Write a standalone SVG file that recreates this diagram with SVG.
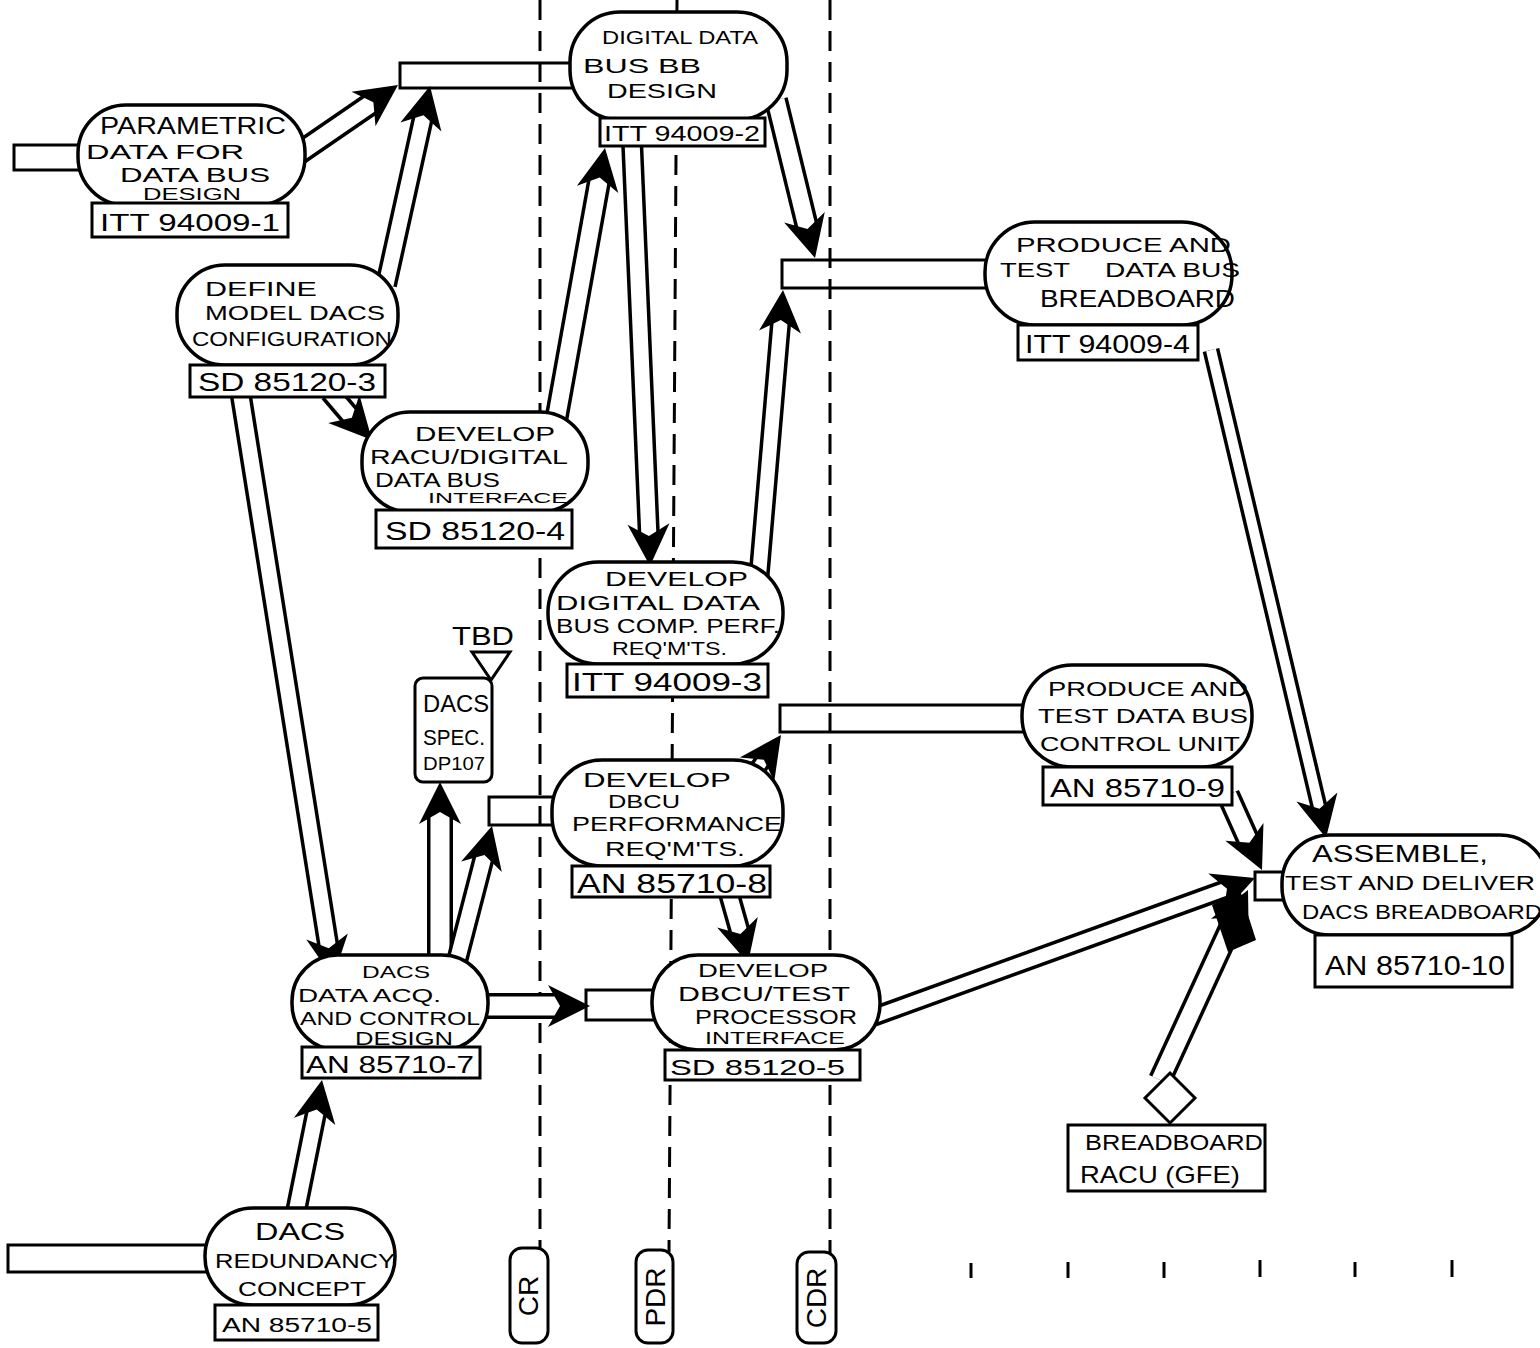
<svg xmlns="http://www.w3.org/2000/svg" width="1540" height="1348" viewBox="0 0 1540 1348">
<style>
.dash{stroke:#000;stroke-width:3;stroke-dasharray:20 11;fill:none}
.p{fill:#fff;stroke:#000;stroke-width:3.5}
.id{fill:#fff;stroke:#000;stroke-width:3}
text{font-family:"Liberation Sans",Arial,sans-serif;fill:#000}
.so{stroke:#000;fill:none}
.si{stroke:#fff;fill:none}
.bar{fill:none;stroke:#000;stroke-width:3}
.tip{fill:none;stroke:none;marker-end:url(#ah)}
.tick{stroke:#000;stroke-width:3}
</style>
<defs>
<marker id="ah" viewBox="-44 -24 46 48" refX="0" refY="0" markerWidth="46" markerHeight="48" markerUnits="userSpaceOnUse" orient="auto">
<path d="M0,0 L-42,-21 L-30,0 L-42,21 Z" fill="#000"/>
</marker>
</defs>
<rect width="1540" height="1348" fill="#fff"/>

<g id="milestone-lines">
<line class="dash" x1="540" y1="0" x2="540" y2="1250"/>
<line class="dash" x1="677" y1="0" x2="669" y2="1252"/>
<line class="dash" x1="830" y1="0" x2="830" y2="1254"/>
</g>

<g id="ticks">
<line class="tick" x1="971" y1="1263" x2="971" y2="1278"/>
<line class="tick" x1="1068" y1="1262" x2="1068" y2="1278"/>
<line class="tick" x1="1164" y1="1262" x2="1164" y2="1278"/>
<line class="tick" x1="1260" y1="1260" x2="1260" y2="1277"/>
<line class="tick" x1="1355" y1="1262" x2="1355" y2="1277"/>
<line class="tick" x1="1452" y1="1260" x2="1452" y2="1277"/>
</g>

<g id="connectors">
<rect class="bar" x="14" y="145" width="70" height="25"/>
<rect class="bar" x="400" y="63" width="176" height="25"/>
<rect class="bar" x="782" y="260" width="212" height="28"/>
<rect class="bar" x="780" y="705" width="248" height="27"/>
<rect class="bar" x="489" y="797" width="70" height="28"/>
<rect class="bar" x="586" y="990" width="72" height="30"/>
<rect class="bar" x="1255" y="872" width="32" height="28"/>
<rect class="bar" x="8" y="1245" width="204" height="27"/>
<path class="so" stroke-width="24" d="M292,158 L375,101"/><path class="si" stroke-width="17" d="M292,158 L375,101"/><path class="tip" d="M375,101 L398,85"/>
<path class="so" stroke-width="22" d="M386,285 L424,113"/><path class="si" stroke-width="15" d="M386,285 L424,113"/><path class="tip" d="M424,113 L430,86"/>
<path class="so" stroke-width="22" d="M330,392 L353,419"/><path class="si" stroke-width="15" d="M330,392 L353,419"/><path class="tip" d="M353,419 L372,440"/>
<path class="so" stroke-width="22" d="M240,390 L329,950"/><path class="si" stroke-width="15" d="M240,390 L329,950"/><path class="tip" d="M329,950 L333,978"/>
<path class="so" stroke-width="24" d="M554,432 L600,176"/><path class="si" stroke-width="17" d="M554,432 L600,176"/><path class="tip" d="M600,176 L605,148"/>
<path class="so" stroke-width="22" d="M632,140 L649,538"/><path class="si" stroke-width="15" d="M632,140 L649,538"/><path class="tip" d="M649,538 L650,566"/>
<path class="so" stroke-width="24" d="M776,100 L808,231"/><path class="si" stroke-width="17" d="M776,100 L808,231"/><path class="tip" d="M808,231 L815,258"/>
<path class="so" stroke-width="21" d="M759,576 L781,318"/><path class="si" stroke-width="14" d="M759,576 L781,318"/><path class="tip" d="M781,318 L783,290"/>
<path class="so" stroke-width="17" d="M1211,350 L1320,811"/><path class="si" stroke-width="10" d="M1211,350 L1320,811"/><path class="tip" d="M1320,811 L1326,838"/>
<path class="so" stroke-width="24" d="M1228,795 L1250,844"/><path class="si" stroke-width="17" d="M1228,795 L1250,844"/><path class="tip" d="M1250,844 L1262,870"/>
<path class="so" stroke-width="20" d="M870,1018 L1229,888"/><path class="si" stroke-width="13" d="M870,1018 L1229,888"/><path class="tip" d="M1229,888 L1255,878"/>
<path class="so" stroke-width="24" d="M1160,1080 L1236,915"/><path class="si" stroke-width="17" d="M1160,1080 L1236,915"/>
<polygon points="1212,905 1240,890 1256,940 1228,952" fill="#000"/>
<path class="tip" d="M1236,915 L1248,890"/>
<path class="so" stroke-width="18" d="M755,772 L765,758"/><path class="si" stroke-width="11" d="M755,772 L765,758"/><path class="tip" d="M765,758 L781,735"/>
<path class="so" stroke-width="26" d="M440,962 L440,810"/><path class="si" stroke-width="19" d="M440,962 L440,810"/><path class="tip" d="M440,810 L440,782"/>
<path class="so" stroke-width="22" d="M456,965 L485,853"/><path class="si" stroke-width="15" d="M456,965 L485,853"/><path class="tip" d="M485,853 L492,826"/>
<path class="so" stroke-width="26" d="M480,1006 L562,1006"/><path class="si" stroke-width="19" d="M480,1006 L562,1006"/><path class="tip" d="M562,1006 L590,1006"/>
<path class="so" stroke-width="22" d="M728,890 L741,936"/><path class="si" stroke-width="15" d="M728,890 L741,936"/><path class="tip" d="M741,936 L748,963"/>
<path class="so" stroke-width="22" d="M294,1222 L317,1108"/><path class="si" stroke-width="15" d="M294,1222 L317,1108"/><path class="tip" d="M317,1108 L322,1080"/>
</g>

<g id="node-parametric">
<rect class="p" x="78" y="105" width="227" height="100" rx="48"/>
<rect class="id" x="92" y="203" width="196" height="34"/>
<text x="100" y="134" font-size="23" textLength="186" lengthAdjust="spacingAndGlyphs">PARAMETRIC</text>
<text x="86" y="159" font-size="21" textLength="158" lengthAdjust="spacingAndGlyphs">DATA FOR</text>
<text x="120" y="182" font-size="21" textLength="150" lengthAdjust="spacingAndGlyphs">DATA BUS</text>
<text x="143" y="200" font-size="16" textLength="98" lengthAdjust="spacingAndGlyphs">DESIGN</text>
<text x="100" y="231" font-size="24" textLength="180" lengthAdjust="spacingAndGlyphs">ITT 94009-1</text>
</g>

<g id="node-define-model">
<rect class="p" x="177" y="265" width="221" height="100" rx="48"/>
<rect class="id" x="190" y="365" width="195" height="32"/>
<text x="205" y="296" font-size="21" textLength="112" lengthAdjust="spacingAndGlyphs">DEFINE</text>
<text x="205" y="320" font-size="21" textLength="180" lengthAdjust="spacingAndGlyphs">MODEL DACS</text>
<text x="192" y="346" font-size="21" textLength="200" lengthAdjust="spacingAndGlyphs">CONFIGURATION</text>
<text x="198" y="391" font-size="26" textLength="178" lengthAdjust="spacingAndGlyphs">SD 85120-3</text>
</g>

<g id="node-digital-bb-design">
<rect class="p" x="570" y="12" width="217" height="108" rx="50"/>
<rect class="id" x="600" y="118" width="165" height="28"/>
<text x="602" y="44" font-size="19" textLength="156" lengthAdjust="spacingAndGlyphs">DIGITAL DATA</text>
<text x="583" y="73" font-size="21" textLength="118" lengthAdjust="spacingAndGlyphs">BUS BB</text>
<text x="607" y="98" font-size="21" textLength="110" lengthAdjust="spacingAndGlyphs">DESIGN</text>
<text x="604" y="141" font-size="22" textLength="156" lengthAdjust="spacingAndGlyphs">ITT 94009-2</text>
</g>

<g id="node-racu-interface">
<rect class="p" x="362" y="412" width="226" height="100" rx="48"/>
<rect class="id" x="376" y="510" width="196" height="38"/>
<text x="415" y="441" font-size="21" textLength="140" lengthAdjust="spacingAndGlyphs">DEVELOP</text>
<text x="370" y="464" font-size="20" textLength="198" lengthAdjust="spacingAndGlyphs">RACU/DIGITAL</text>
<text x="375" y="487" font-size="20" textLength="125" lengthAdjust="spacingAndGlyphs">DATA BUS</text>
<text x="428" y="503" font-size="15" textLength="140" lengthAdjust="spacingAndGlyphs">INTERFACE</text>
<text x="385" y="540" font-size="26" textLength="180" lengthAdjust="spacingAndGlyphs">SD 85120-4</text>
</g>

<g id="node-bus-breadboard">
<rect class="p" x="985" y="222" width="247" height="103" rx="50"/>
<rect class="id" x="1018" y="325" width="180" height="35"/>
<text x="1016" y="252" font-size="21" textLength="215" lengthAdjust="spacingAndGlyphs">PRODUCE AND</text>
<text x="1000" y="277" font-size="21" textLength="70" lengthAdjust="spacingAndGlyphs">TEST</text>
<text x="1105" y="277" font-size="21" textLength="135" lengthAdjust="spacingAndGlyphs">DATA BUS</text>
<text x="1040" y="307" font-size="23" textLength="195" lengthAdjust="spacingAndGlyphs">BREADBOARD</text>
<text x="1025" y="353" font-size="26" textLength="165" lengthAdjust="spacingAndGlyphs">ITT 94009-4</text>
</g>

<g id="node-comp-perf">
<rect class="p" x="548" y="562" width="235" height="102" rx="50"/>
<rect class="id" x="567" y="664" width="201" height="33"/>
<text x="605" y="586" font-size="21" textLength="143" lengthAdjust="spacingAndGlyphs">DEVELOP</text>
<text x="556" y="610" font-size="21" textLength="204" lengthAdjust="spacingAndGlyphs">DIGITAL DATA</text>
<text x="556" y="633" font-size="20" textLength="224" lengthAdjust="spacingAndGlyphs">BUS COMP. PERF.</text>
<text x="612" y="655" font-size="19" textLength="115" lengthAdjust="spacingAndGlyphs">REQ'M'TS.</text>
<text x="572" y="691" font-size="26" textLength="190" lengthAdjust="spacingAndGlyphs">ITT 94009-3</text>
</g>

<g id="node-dacs-spec">
<text x="452" y="645" font-size="26" textLength="62" lengthAdjust="spacingAndGlyphs">TBD</text>
<polygon points="472,652 510,652 491,680" fill="#fff" stroke="#000" stroke-width="3"/>
<rect class="id" x="415" y="678" width="77" height="104" rx="8"/>
<text x="423" y="712" font-size="24" textLength="66" lengthAdjust="spacingAndGlyphs">DACS</text>
<text x="423" y="745" font-size="22" textLength="62" lengthAdjust="spacingAndGlyphs">SPEC.</text>
<text x="423" y="770" font-size="19" textLength="62" lengthAdjust="spacingAndGlyphs">DP107</text>
</g>

<g id="node-bus-control-unit">
<rect class="p" x="1022" y="665" width="230" height="102" rx="50"/>
<rect class="id" x="1043" y="767" width="189" height="38"/>
<text x="1048" y="696" font-size="21" textLength="200" lengthAdjust="spacingAndGlyphs">PRODUCE AND</text>
<text x="1038" y="723" font-size="21" textLength="210" lengthAdjust="spacingAndGlyphs">TEST DATA BUS</text>
<text x="1040" y="751" font-size="21" textLength="200" lengthAdjust="spacingAndGlyphs">CONTROL UNIT</text>
<text x="1050" y="797" font-size="26" textLength="175" lengthAdjust="spacingAndGlyphs">AN 85710-9</text>
</g>

<g id="node-dbcu-perf">
<rect class="p" x="552" y="760" width="231" height="106" rx="50"/>
<rect class="id" x="572" y="866" width="198" height="31"/>
<text x="583" y="787" font-size="21" textLength="148" lengthAdjust="spacingAndGlyphs">DEVELOP</text>
<text x="608" y="808" font-size="19" textLength="72" lengthAdjust="spacingAndGlyphs">DBCU</text>
<text x="572" y="831" font-size="20" textLength="210" lengthAdjust="spacingAndGlyphs">PERFORMANCE</text>
<text x="605" y="856" font-size="21" textLength="140" lengthAdjust="spacingAndGlyphs">REQ'M'TS.</text>
<text x="577" y="893" font-size="28" textLength="190" lengthAdjust="spacingAndGlyphs">AN 85710-8</text>
</g>

<g id="node-data-acq">
<rect class="p" x="292" y="955" width="196" height="95" rx="46"/>
<rect class="id" x="302" y="1047" width="178" height="31"/>
<text x="362" y="978" font-size="17" textLength="68" lengthAdjust="spacingAndGlyphs">DACS</text>
<text x="298" y="1002" font-size="19" textLength="143" lengthAdjust="spacingAndGlyphs">DATA ACQ.</text>
<text x="300" y="1025" font-size="19" textLength="180" lengthAdjust="spacingAndGlyphs">AND CONTROL</text>
<text x="355" y="1045" font-size="18" textLength="98" lengthAdjust="spacingAndGlyphs">DESIGN</text>
<text x="306" y="1073" font-size="24" textLength="168" lengthAdjust="spacingAndGlyphs">AN 85710-7</text>
</g>

<g id="node-test-processor">
<rect class="p" x="652" y="955" width="228" height="95" rx="46"/>
<rect class="id" x="665" y="1050" width="195" height="30"/>
<text x="698" y="977" font-size="19" textLength="130" lengthAdjust="spacingAndGlyphs">DEVELOP</text>
<text x="678" y="1001" font-size="20" textLength="172" lengthAdjust="spacingAndGlyphs">DBCU/TEST</text>
<text x="695" y="1024" font-size="20" textLength="162" lengthAdjust="spacingAndGlyphs">PROCESSOR</text>
<text x="705" y="1044" font-size="16" textLength="140" lengthAdjust="spacingAndGlyphs">INTERFACE</text>
<text x="670" y="1075" font-size="22" textLength="175" lengthAdjust="spacingAndGlyphs">SD 85120-5</text>
</g>

<g id="node-assemble">
<rect class="p" x="1282" y="835" width="266" height="100" rx="48"/>
<rect class="id" x="1315" y="935" width="197" height="52"/>
<text x="1312" y="862" font-size="23" textLength="176" lengthAdjust="spacingAndGlyphs">ASSEMBLE,</text>
<text x="1285" y="890" font-size="21" textLength="250" lengthAdjust="spacingAndGlyphs">TEST AND DELIVER</text>
<text x="1302" y="919" font-size="21" textLength="240" lengthAdjust="spacingAndGlyphs">DACS BREADBOARD</text>
<text x="1325" y="975" font-size="28" textLength="180" lengthAdjust="spacingAndGlyphs">AN 85710-10</text>
</g>

<g id="node-breadboard-racu">
<polygon points="1170,1073 1195,1098 1170,1123 1145,1098" fill="#fff" stroke="#000" stroke-width="3"/>
<rect class="id" x="1068" y="1125" width="197" height="66"/>
<text x="1085" y="1150" font-size="22" textLength="178" lengthAdjust="spacingAndGlyphs">BREADBOARD</text>
<text x="1080" y="1183" font-size="24" textLength="160" lengthAdjust="spacingAndGlyphs">RACU (GFE)</text>
</g>

<g id="node-redundancy">
<rect class="p" x="205" y="1208" width="190" height="97" rx="48"/>
<rect class="id" x="215" y="1305" width="163" height="35"/>
<text x="255" y="1240" font-size="23" textLength="90" lengthAdjust="spacingAndGlyphs">DACS</text>
<text x="215" y="1268" font-size="21" textLength="180" lengthAdjust="spacingAndGlyphs">REDUNDANCY</text>
<text x="238" y="1296" font-size="21" textLength="128" lengthAdjust="spacingAndGlyphs">CONCEPT</text>
<text x="222" y="1332" font-size="20" textLength="150" lengthAdjust="spacingAndGlyphs">AN 85710-5</text>
</g>

<g id="node-cr">
<rect class="id" x="510" y="1248" width="38" height="95" rx="12"/>
<text transform="translate(538,1296) rotate(-90)" text-anchor="middle" font-size="28">CR</text>
</g>
<g id="node-pdr">
<rect class="id" x="636" y="1250" width="37" height="93" rx="12"/>
<text transform="translate(665,1297) rotate(-90)" text-anchor="middle" font-size="28">PDR</text>
</g>
<g id="node-cdr">
<rect class="id" x="797" y="1252" width="39" height="91" rx="12"/>
<text transform="translate(826,1298) rotate(-90)" text-anchor="middle" font-size="28">CDR</text>
</g>
</svg>
